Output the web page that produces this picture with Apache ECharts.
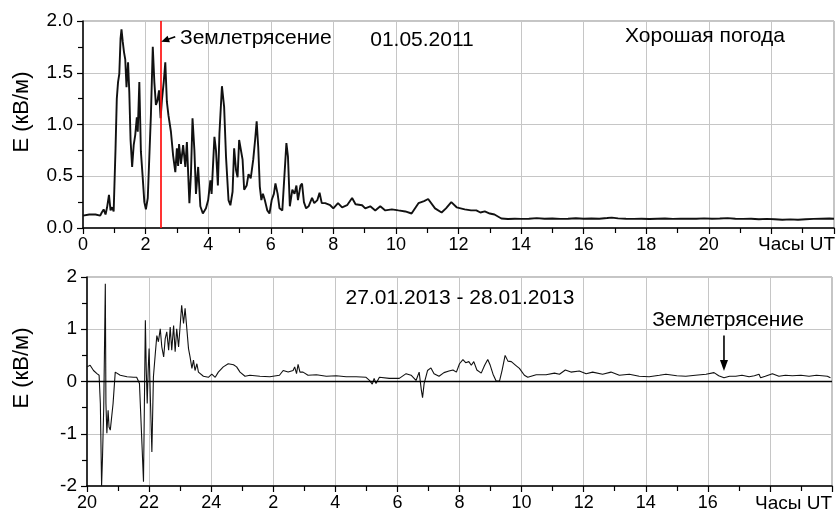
<!DOCTYPE html>
<html><head><meta charset="utf-8">
<script src="https://cdn.jsdelivr.net/npm/echarts@6/dist/echarts.min.js"></script>
<style>html,body{margin:0;padding:0;background:#fff}#c{width:837px;height:517px}</style>
</head><body><div id="c"></div>
<script>
// 01.05.2011 record: hours UT and field strength, kV/m
const dayHours = [0,0.2,0.4,0.55,0.6,0.66,0.72,0.77,0.83,0.88,0.93,0.98,1.04,1.08,1.12,1.16,1.2,1.23,1.27,1.31,1.35,1.39,1.44,1.48,1.52,1.57,1.62,1.67,1.72,1.75,1.8,1.85,1.91,1.96,2.01,2.07,2.12,2.17,2.23,2.28,2.33,2.38,2.43,2.48,2.52,2.58,2.63,2.68,2.73,2.81,2.88,2.95,3.0,3.04,3.07,3.13,3.2,3.27,3.32,3.37,3.4,3.45,3.5,3.56,3.61,3.68,3.75,3.83,3.93,4.0,4.07,4.11,4.2,4.25,4.31,4.36,4.44,4.51,4.57,4.65,4.71,4.78,4.83,4.89,4.94,4.99,5.05,5.1,5.15,5.23,5.29,5.36,5.44,5.5,5.55,5.6,5.65,5.7,5.75,5.81,5.89,5.96,6.03,6.1,6.15,6.22,6.28,6.37,6.43,6.5,6.55,6.61,6.69,6.76,6.82,6.87,6.95,7.0,7.06,7.13,7.21,7.32,7.39,7.49,7.56,7.63,7.74,7.9,8.0,8.15,8.28,8.44,8.6,8.71,8.92,9.02,9.18,9.34,9.5,9.66,9.87,10.08,10.3,10.5,10.72,10.9,11.03,11.25,11.46,11.6,11.77,11.94,12.2,12.4,12.57,12.7,12.84,13.0,13.15,13.37,13.58,13.8,14.0,14.25,14.5,14.75,15.0,15.25,15.5,15.75,16.0,16.25,16.5,16.75,16.9,17.1,17.35,17.6,17.85,18.1,18.35,18.6,18.85,19.1,19.35,19.6,19.85,20.1,20.35,20.6,20.85,21.1,21.35,21.6,21.85,22.1,22.35,22.6,22.85,23.1,23.35,23.6,23.85,24.0];
const dayField = [0.12,0.13,0.13,0.12,0.15,0.18,0.13,0.2,0.32,0.17,0.2,0.16,0.77,1.25,1.41,1.49,1.83,1.92,1.8,1.7,1.63,1.36,1.6,1.31,0.85,0.59,0.8,0.9,1.07,0.93,1.41,0.74,0.48,0.25,0.18,0.29,0.3,1.09,1.75,1.41,1.19,1.23,1.33,1.06,1.23,1.41,1.6,1.22,1.09,0.93,0.7,0.54,0.77,0.6,0.81,0.62,0.8,0.59,0.83,0.46,0.24,0.52,1.06,0.75,0.33,0.59,0.21,0.14,0.19,0.27,0.46,0.33,0.88,0.75,0.41,0.91,1.37,1.17,0.69,0.27,0.22,0.35,0.77,0.56,0.49,0.85,0.86,0.66,0.37,0.41,0.52,0.48,0.66,0.85,1.03,0.78,0.4,0.27,0.33,0.27,0.17,0.14,0.27,0.33,0.43,0.33,0.19,0.17,0.17,0.82,0.69,0.21,0.37,0.33,0.41,0.27,0.41,0.43,0.25,0.19,0.21,0.29,0.24,0.27,0.34,0.24,0.24,0.22,0.19,0.24,0.2,0.22,0.29,0.23,0.22,0.19,0.21,0.17,0.21,0.17,0.18,0.17,0.16,0.14,0.24,0.26,0.28,0.19,0.15,0.19,0.25,0.2,0.18,0.17,0.17,0.15,0.16,0.14,0.13,0.092,0.087,0.09,0.088,0.09,0.095,0.09,0.092,0.088,0.09,0.094,0.09,0.092,0.09,0.096,0.1,0.093,0.09,0.088,0.09,0.087,0.09,0.092,0.088,0.09,0.089,0.09,0.093,0.09,0.092,0.095,0.09,0.088,0.09,0.085,0.088,0.084,0.08,0.083,0.08,0.085,0.088,0.09,0.092,0.09];

// 27.01.2013 - 28.01.2013 record: hours counted from 00 UT on 27.01
const nightHours = [20,20.1,20.21,20.32,20.39,20.43,20.47,20.5,20.54,20.59,20.61,20.64,20.68,20.71,20.75,20.84,20.91,21.07,21.29,21.5,21.6,21.69,21.77,21.82,21.88,21.91,21.94,21.97,22,22.04,22.09,22.14,22.2,22.25,22.3,22.36,22.41,22.47,22.52,22.57,22.63,22.68,22.73,22.79,22.84,22.89,22.95,23,23.05,23.11,23.16,23.22,23.27,23.32,23.38,23.43,23.48,23.54,23.59,23.64,23.75,23.91,24.02,24.13,24.23,24.39,24.55,24.72,24.82,24.93,25.09,25.25,25.57,25.89,26.2,26.32,26.48,26.64,26.69,26.75,26.8,26.86,26.96,27.12,27.39,27.71,28.03,28.35,28.67,28.99,29.1,29.19,29.25,29.31,29.42,29.74,30.06,30.28,30.44,30.6,30.7,30.77,30.81,30.86,30.97,31.08,31.18,31.34,31.5,31.66,31.79,31.9,32,32.11,32.2,32.3,32.38,32.46,32.56,32.7,32.81,32.91,32.99,33.08,33.18,33.29,33.37,33.47,33.56,33.67,33.81,33.93,34.09,34.2,34.47,34.79,35.06,35.22,35.41,35.59,35.86,36.08,36.29,36.61,36.88,37.15,37.47,37.79,38.11,38.44,38.65,39,39.29,39.6,39.94,40.2,40.35,40.52,40.7,40.9,41.1,41.33,41.5,41.65,41.7,41.85,42.08,42.29,42.5,42.72,43,43.26,43.5,43.68,43.85,43.95];
const nightField = [0.28,0.31,0.21,0.15,0.12,-0.42,-2,-1.44,-0.48,1.87,-0.42,-0.99,-0.55,-0.87,-0.93,-0.42,0.18,0.12,0.09,0.08,0.08,-0.04,-1.19,-1.92,1.17,0.21,-0.42,0.21,0.63,-0.29,-1.35,0.09,0.53,0.88,0.76,1.01,0.66,0.47,0.82,0.95,0.6,1.04,0.6,1.07,0.57,1.01,0.66,0.63,1.46,1.11,1.4,0.98,0.63,0.47,0.25,0.41,0.21,0.34,0.18,0.15,0.1,0.08,0.14,0.08,0.18,0.28,0.34,0.32,0.28,0.18,0.1,0.12,0.1,0.09,0.12,0.21,0.18,0.21,0.28,0.15,0.33,0.18,0.18,0.12,0.13,0.1,0.11,0.09,0.09,0.08,0.02,-0.05,0.06,-0.04,0.08,0.06,0.06,0.15,0.12,0.02,0.18,-0.16,-0.31,-0.04,0.21,0.26,0.15,0.1,0.17,0.2,0.22,0.18,0.34,0.42,0.36,0.38,0.31,0.38,0.22,0.16,0.31,0.42,0.31,0.14,0.01,0.01,0.21,0.5,0.39,0.38,0.31,0.25,0.12,0.08,0.13,0.13,0.16,0.14,0.22,0.18,0.2,0.15,0.18,0.14,0.18,0.12,0.14,0.1,0.09,0.12,0.14,0.11,0.1,0.12,0.14,0.17,0.11,0.07,0.1,0.1,0.12,0.09,0.11,0.14,0.07,0.1,0.15,0.1,0.12,0.11,0.12,0.1,0.12,0.11,0.1,0.07];

// earthquake moments (hours, same scale as the x axes)
const quakeDay = 2.5;
const quakeNight = 40.52;

const FONT = 'Liberation Sans, Arial, sans-serif';

function zip(xs, ys) { return xs.map((x, i) => [x, ys[i]]); }

const chart = echarts.init(document.getElementById('c'), null, {renderer: 'canvas'});

function xAxisCfg(grid, min, max, fmt) {
  return {
    type: 'value', gridIndex: grid, min: min, max: max, interval: 2,
    axisLine: {show: true, onZero: false, lineStyle: {color: '#000', width: 1.5}},
    axisTick: {show: true, length: 6, lineStyle: {color: '#000', width: 1.2}},
    minorTick: {show: true, splitNumber: 2, length: 5, lineStyle: {color: '#000', width: 1.2}},
    splitLine: {show: true, lineStyle: {color: '#c6c6c6', width: 1}},
    axisLabel: {color: '#000', fontSize: 18, fontFamily: FONT, margin: 8, formatter: fmt}
  };
}
function yAxisCfg(grid, min, max, step, fmt) {
  return {
    type: 'value', gridIndex: grid, min: min, max: max, interval: step,
    axisLine: {show: true, lineStyle: {color: '#000', width: 1.5}},
    axisTick: {show: true, length: 6, lineStyle: {color: '#000', width: 1.2}},
    minorTick: {show: true, splitNumber: 2, length: 5, lineStyle: {color: '#000', width: 1.2}},
    splitLine: {show: true, lineStyle: {color: '#c6c6c6', width: 1}},
    axisLabel: {color: '#000', fontSize: 19, fontFamily: FONT, margin: 10, formatter: fmt}
  };
}

chart.setOption({
  animation: false,
  backgroundColor: '#fff',
  grid: [
    {left: 83, right: 1, top: 21, height: 207, show: true, borderColor: '#8a8a8a', borderWidth: 1},
    {left: 87, right: 5, top: 277, height: 209, show: true, borderColor: '#8a8a8a', borderWidth: 1}
  ],
  xAxis: [
    xAxisCfg(0, 0, 24, v => v >= 22 ? '' : String(v)),
    xAxisCfg(1, 20, 44, v => v >= 42 ? '' : String(v <= 24 ? v : v - 24))
  ],
  yAxis: [
    yAxisCfg(0, 0, 2, 0.5, v => v.toFixed(1)),
    yAxisCfg(1, -2, 2, 1, v => String(v))
  ],
  series: [
    {
      type: 'line', xAxisIndex: 0, yAxisIndex: 0, data: zip(dayHours, dayField),
      showSymbol: false, symbol: 'none', lineStyle: {color: '#111', width: 1.9}, z: 3,
      markLine: {
        silent: true, symbol: 'none', label: {show: false}, z: 5,
        lineStyle: {color: '#ff1010', width: 1.7, type: 'solid', opacity: 1},
        emphasis: {disabled: true},
        data: [{xAxis: quakeDay}]
      }
    },
    {
      type: 'line', xAxisIndex: 1, yAxisIndex: 1, data: zip(nightHours, nightField),
      showSymbol: false, symbol: 'none', lineStyle: {color: '#111', width: 1.1}, z: 3,
      markLine: {
        silent: true, symbol: 'none', label: {show: false},
        lineStyle: {color: '#000', width: 1.3, type: 'solid', opacity: 1},
        data: [{yAxis: 0}]
      }
    }
  ]
});

// annotations placed from data coordinates
const tipDay = chart.convertToPixel({gridIndex: 0}, [quakeDay, 1.8]);
const tipNight = chart.convertToPixel({gridIndex: 1}, [quakeNight, 0.2]);
const tailNight = chart.convertToPixel({gridIndex: 1}, [quakeNight, 0.88]);

function txt(x, y, s, align, size, rot) {
  return {type: 'text', x: x, y: y, rotation: rot || 0, z: 10,
    style: {text: s, fill: '#000', font: size + 'px ' + FONT, align: align || 'center', verticalAlign: 'middle'}};
}

const dx = 14, dy = -5;
const ang = Math.atan2(dy, dx);
const headLen = 8, headW = 3.5;
function headPts(tx, ty, a) {
  const bx = tx + Math.cos(a) * headLen, by = ty + Math.sin(a) * headLen;
  const nx = -Math.sin(a) * headW, ny = Math.cos(a) * headW;
  return [[tx, ty], [bx + nx, by + ny], [bx - nx, by - ny]];
}

chart.setOption({
  graphic: [
    txt(22, 112, 'E (кВ/м)', 'center', 22, Math.PI / 2),
    txt(22, 368, 'E (кВ/м)', 'center', 22, Math.PI / 2),
    txt(180, 38, 'Землетрясение', 'left', 21),
    txt(422, 40, '01.05.2011', 'center', 21),
    txt(705, 36, 'Хорошая погода', 'center', 21),
    txt(835, 245, 'Часы UT', 'right', 19),
    txt(460, 298, '27.01.2013 - 28.01.2013', 'center', 21),
    txt(728, 320, 'Землетрясение', 'center', 21),
    txt(832, 504, 'Часы UT', 'right', 19),
    {type: 'line', z: 10, shape: {x1: tipDay[0] + 4, y1: tipDay[1] - 1.5, x2: tipDay[0] + dx, y2: tipDay[1] + dy},
      style: {stroke: '#000', lineWidth: 1.6}},
    {type: 'polygon', z: 10, shape: {points: headPts(tipDay[0], tipDay[1], ang)}, style: {fill: '#000'}},
    {type: 'line', z: 10, shape: {x1: tailNight[0], y1: tailNight[1], x2: tipNight[0], y2: tipNight[1] - 6},
      style: {stroke: '#000', lineWidth: 1.6}},
    {type: 'polygon', z: 10, shape: {points: [[tipNight[0], tipNight[1]], [tipNight[0] - 4, tipNight[1] - 11], [tipNight[0] + 4, tipNight[1] - 11]]}, style: {fill: '#000'}}
  ]
});
</script></body></html>
